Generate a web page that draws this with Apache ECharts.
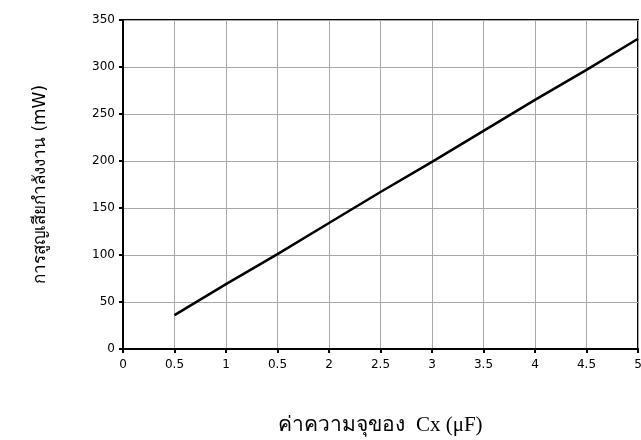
<!DOCTYPE html>
<html>
<head>
<meta charset="utf-8">
<script src="https://cdn.jsdelivr.net/npm/echarts@6/dist/echarts.min.js"></script>
<style>
  html, body { margin: 0; padding: 0; background: #fff; }
  #chart { width: 641px; height: 440px; }
</style>
</head>
<body>
<div id="chart"></div>
<script>
// ข้อมูลกราฟ
var capValues = [0.5, 1, 1.5, 2, 2.5, 3, 3.5, 4, 4.5, 5];
var powerLoss = [36, 69, 101, 134, 167, 199, 232, 265, 297, 330];
var xTickLabels = ['0', '0.5', '1', '0.5', '2', '2.5', '3', '3.5', '4', '4.5', '5'];
var yTickLabels = ['0', '50', '100', '150', '200', '250', '300', '350'];

var chart = echarts.init(document.getElementById('chart'));

var lineData = capValues.map(function (c, i) { return [c, powerLoss[i]]; });

var option = {
    animation: false,
    backgroundColor: '#fff',
    grid: {
        left: 123, right: 3, top: 20, bottom: 91,
        outerBoundsMode: 'none',
        containLabel: false,
        show: true,
        borderColor: '#000',
        borderWidth: 2
    },
    xAxis: {
        type: 'value',
        min: 0, max: 5, interval: 0.5,
        name: 'ค่าความจุของ  Cx (μF)',
        nameLocation: 'middle',
        nameGap: 66,
        nameTextStyle: { fontFamily: 'Liberation Serif', fontSize: 21, color: '#000' },
        axisLine: { lineStyle: { color: '#000', width: 2 } },
        axisTick: { show: true, length: 4, lineStyle: { color: '#000', width: 2 } },
        axisLabel: {
            margin: 10,
            color: '#000',
            fontFamily: 'DejaVu Sans',
            fontSize: 12,
            formatter: function (v) { return xTickLabels[Math.round(v / 0.5)]; }
        },
        splitLine: { show: true, lineStyle: { color: '#a8a8a8', width: 1 } }
    },
    yAxis: {
        type: 'value',
        min: 0, max: 350, interval: 50,
        name: 'การสูญเสียกำลังงาน (mW)',
        nameLocation: 'middle',
        nameGap: 74,
        nameTextStyle: { fontFamily: 'DejaVu Sans', fontSize: 17, color: '#000' },
        axisLine: { show: true, lineStyle: { color: '#000', width: 2 } },
        axisTick: { show: true, length: 4, lineStyle: { color: '#000', width: 2 } },
        axisLabel: {
            margin: 8,
            color: '#000',
            fontFamily: 'DejaVu Sans',
            fontSize: 12,
            formatter: function (v) { return yTickLabels[Math.round(v / 50)]; }
        },
        splitLine: { show: true, lineStyle: { color: '#a8a8a8', width: 1 } }
    },
    series: [{
        type: 'line',
        data: lineData,
        showSymbol: false,
        lineStyle: { color: '#000', width: 2.5 }
    }]
};

chart.setOption(option);
</script>
</body>
</html>
